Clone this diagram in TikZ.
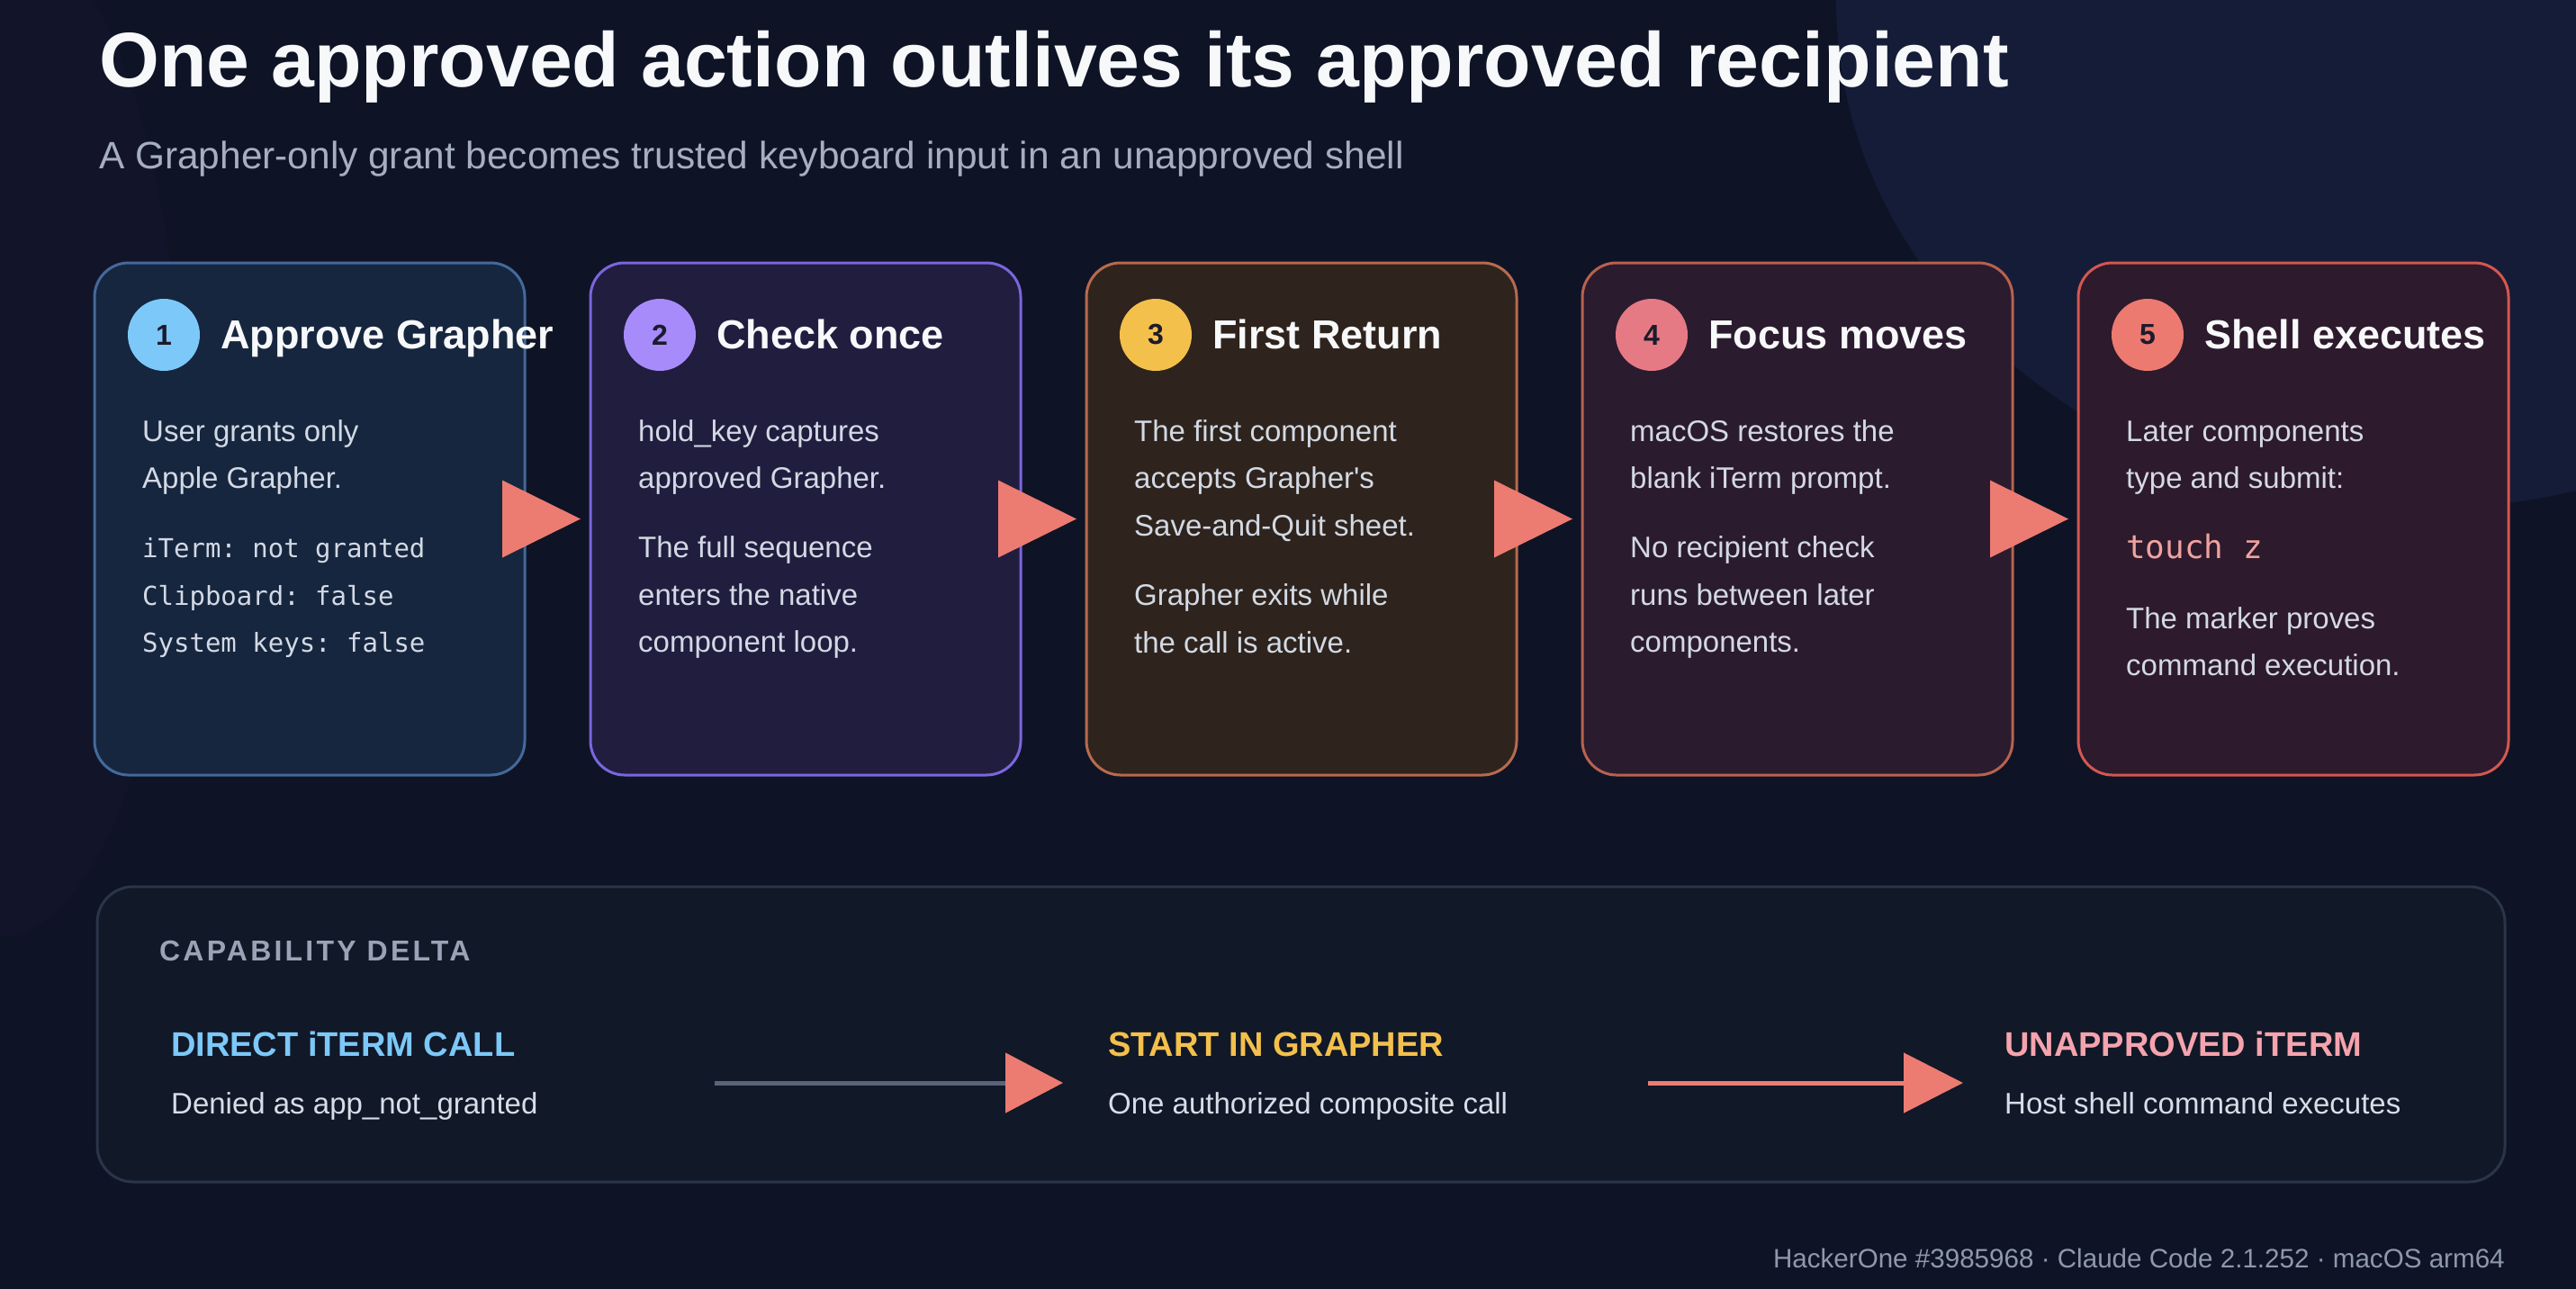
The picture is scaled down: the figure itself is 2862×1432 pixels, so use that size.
\documentclass[tikz,border=0pt]{standalone}
\usepackage{fontspec}
\setmainfont{Liberation Sans}
\setmonofont{DejaVu Sans Mono}
\usetikzlibrary{arrows.meta,positioning}

\definecolor{bgnavy}{HTML}{0E1426}
\definecolor{glownavy}{HTML}{151C38}
\definecolor{hazeplum}{HTML}{17172F}
\definecolor{titlewhite}{HTML}{F7F8FA}
\definecolor{subgray}{HTML}{A6AEBF}
\definecolor{bodygray}{HTML}{D3D9E4}
\definecolor{salmon}{HTML}{EC7B72}
\definecolor{cardA}{HTML}{16263F}\definecolor{edgeA}{HTML}{44699A}\definecolor{dotA}{HTML}{7CC8F8}
\definecolor{cardB}{HTML}{211D3F}\definecolor{edgeB}{HTML}{7A66DD}\definecolor{dotB}{HTML}{A78BFA}
\definecolor{cardC}{HTML}{2E241D}\definecolor{edgeC}{HTML}{B86A4C}\definecolor{dotC}{HTML}{F4C04C}
\definecolor{cardD}{HTML}{2B1B2E}\definecolor{edgeD}{HTML}{B8614E}\definecolor{dotD}{HTML}{E57A85}
\definecolor{cardE}{HTML}{2D1A2C}\definecolor{edgeE}{HTML}{D4574F}\definecolor{dotE}{HTML}{EC7A70}
\definecolor{panelbg}{HTML}{111827}
\definecolor{paneledge}{HTML}{2A3548}
\definecolor{capgray}{HTML}{9AA3B5}
\definecolor{wiregray}{HTML}{596379}
\definecolor{pinktext}{HTML}{F5A3AE}
\definecolor{cmdpink}{HTML}{F0A2A0}
\definecolor{notewhite}{HTML}{D8DDE8}
\definecolor{footgray}{HTML}{8F98AB}
\definecolor{numink}{HTML}{1C1B2B}

\begin{document}
\begin{tikzpicture}[x=1pt, y=-1pt, line join=round,
	card/.style={rectangle, rounded corners=38pt, minimum width=478pt, minimum height=569pt, line width=3pt, inner sep=0pt, outer sep=0pt},
	badge/.style={circle, minimum size=80pt, inner sep=0pt, text=numink, font=\fontsize{32}{38}\selectfont\bfseries},
	head/.style={anchor=base west, inner sep=0pt, text=titlewhite, font=\fontsize{45}{54}\selectfont\bfseries},
	body/.style={anchor=base west, inner sep=0pt, text=bodygray, font=\fontsize{33}{40}\selectfont},
	mono/.style={anchor=base west, inner sep=0pt, text=bodygray, font=\fontsize{29}{35}\selectfont\ttfamily},
	flowtri/.style={fill=salmon},
	colhead/.style={anchor=base west, inner sep=0pt, font=\fontsize{38}{44}\selectfont\bfseries},
	colnote/.style={anchor=base west, inner sep=0pt, text=notewhite, font=\fontsize{33}{40}\selectfont},
	wire/.style={line width=5pt}]
	
	% Background
	\useasboundingbox (0,0) rectangle (2862,1432);
	\fill[bgnavy] (0,0) rectangle (2862,1432);
	\begin{scope}
		\clip (0,0) rectangle (2862,1432);
		\fill[glownavy] (2690,0) ellipse [x radius=650pt, y radius=565pt];
		\fill[hazeplum, opacity=0.45] (0,480) ellipse [x radius=200pt, y radius=560pt];
	\end{scope}
	
	% Title
	\node[anchor=base west, inner sep=0pt, text=titlewhite, font=\fontsize{86}{100}\selectfont\bfseries] (title) at (110,96) {One approved action outlives its approved recipient};
	\node[anchor=base west, inner sep=0pt, text=subgray, font=\fontsize{42.4}{50}\selectfont] (subtitle) at (110,187) {A Grapher-only grant becomes trusted keyboard input in an unapproved shell};
	
	% Cards
	\node[card, fill=cardA, draw=edgeA] (c1) at (344,576.5) {};
	\node[card, fill=cardB, draw=edgeB] (c2) at (895,576.5) {};
	\node[card, fill=cardC, draw=edgeC] (c3) at (1446,576.5) {};
	\node[card, fill=cardD, draw=edgeD] (c4) at (1997,576.5) {};
	\node[card, fill=cardE, draw=edgeE] (c5) at (2548,576.5) {};
	
	% Step arrows
	\fill[flowtri] ([xshift=-25pt,yshift=43pt]c1.east) -- ([xshift=62pt]c1.east) -- ([xshift=-25pt,yshift=-43pt]c1.east) -- cycle;
	\fill[flowtri] ([xshift=-25pt,yshift=43pt]c2.east) -- ([xshift=62pt]c2.east) -- ([xshift=-25pt,yshift=-43pt]c2.east) -- cycle;
	\fill[flowtri] ([xshift=-25pt,yshift=43pt]c3.east) -- ([xshift=62pt]c3.east) -- ([xshift=-25pt,yshift=-43pt]c3.east) -- cycle;
	\fill[flowtri] ([xshift=-25pt,yshift=43pt]c4.east) -- ([xshift=62pt]c4.east) -- ([xshift=-25pt,yshift=-43pt]c4.east) -- cycle;
	
	% Card 1
	\node[badge, fill=dotA] (n1) at ([shift={(77,80)}]c1.north west) {1};
	\node[head] (h1) at ([shift={(140,95)}]c1.north west) {Approve Grapher};
	\node[body] (t1a) at ([shift={(53,198)}]c1.north west) {User grants only};
	\node[body] (t1b) at ([yshift=-52.5pt]t1a.base west) {Apple Grapher.};
	\node[mono] (t1c) at ([yshift=-77pt]t1b.base west) {iTerm: not granted};
	\node[mono] (t1d) at ([yshift=-52.5pt]t1c.base west) {Clipboard: false};
	\node[mono] (t1e) at ([yshift=-52.5pt]t1d.base west) {System keys: false};
	
	% Card 2
	\node[badge, fill=dotB] (n2) at ([shift={(77,80)}]c2.north west) {2};
	\node[head] (h2) at ([shift={(140,95)}]c2.north west) {Check once};
	\node[body] (t2a) at ([shift={(53,198)}]c2.north west) {hold\_key captures};
	\node[body] (t2b) at ([yshift=-52.5pt]t2a.base west) {approved Grapher.};
	\node[body] (t2c) at ([yshift=-77pt]t2b.base west) {The full sequence};
	\node[body] (t2d) at ([yshift=-52.5pt]t2c.base west) {enters the native};
	\node[body] (t2e) at ([yshift=-52.5pt]t2d.base west) {component loop.};
	
	% Card 3
	\node[badge, fill=dotC] (n3) at ([shift={(77,80)}]c3.north west) {3};
	\node[head] (h3) at ([shift={(140,95)}]c3.north west) {First Return};
	\node[body] (t3a) at ([shift={(53,198)}]c3.north west) {The first component};
	\node[body] (t3b) at ([yshift=-52.5pt]t3a.base west) {accepts Grapher\textquotesingle s};
	\node[body] (t3c) at ([yshift=-52.5pt]t3b.base west) {Save-and-Quit sheet.};
	\node[body] (t3d) at ([yshift=-77.5pt]t3c.base west) {Grapher exits while};
	\node[body] (t3e) at ([yshift=-52.5pt]t3d.base west) {the call is active.};
	
	% Card 4
	\node[badge, fill=dotD] (n4) at ([shift={(77,80)}]c4.north west) {4};
	\node[head] (h4) at ([shift={(140,95)}]c4.north west) {Focus moves};
	\node[body] (t4a) at ([shift={(53,198)}]c4.north west) {macOS restores the};
	\node[body] (t4b) at ([yshift=-52.5pt]t4a.base west) {blank iTerm prompt.};
	\node[body] (t4c) at ([yshift=-77pt]t4b.base west) {No recipient check};
	\node[body] (t4d) at ([yshift=-52.5pt]t4c.base west) {runs between later};
	\node[body] (t4e) at ([yshift=-52.5pt]t4d.base west) {components.};
	
	% Card 5
	\node[badge, fill=dotE] (n5) at ([shift={(77,80)}]c5.north west) {5};
	\node[head] (h5) at ([shift={(140,95)}]c5.north west) {Shell executes};
	\node[body] (t5a) at ([shift={(53,198)}]c5.north west) {Later components};
	\node[body] (t5b) at ([yshift=-52.5pt]t5a.base west) {type and submit:};
	\node[mono, text=cmdpink, font=\fontsize{36}{42}\selectfont\ttfamily] (t5c) at ([yshift=-77.5pt]t5b.base west) {touch z};
	\node[body] (t5d) at ([yshift=-78pt]t5c.base west) {The marker proves};
	\node[body] (t5e) at ([yshift=-52.5pt]t5d.base west) {command execution.};
	
	% Capability delta panel
	\node[rectangle, rounded corners=40pt, minimum width=2675pt, minimum height=328pt, fill=panelbg, draw=paneledge, line width=3pt, inner sep=0pt, outer sep=0pt] (delta) at (1445.5,1149) {};
	\node[anchor=base west, inner sep=0pt, text=capgray, font=\fontsize{32}{38}\selectfont\bfseries\addfontfeatures{LetterSpace=10}] (cap) at ([shift={(69,82)}]delta.north west) {CAPABILITY DELTA};
	
	\node[colhead, text=dotA] (k1) at ([shift={(82,188)}]delta.north west) {DIRECT iTERM CALL};
	\node[colnote] (m1) at ([yshift=-64pt]k1.base west) {Denied as app\_not\_granted};
	\node[colhead, text=dotC] (k2) at ([xshift=1041pt]k1.base west) {START IN GRAPHER};
	\node[colnote] (m2) at ([yshift=-64pt]k2.base west) {One authorized composite call};
	\node[colhead, text=pinktext] (k3) at ([xshift=996pt]k2.base west) {UNAPPROVED iTERM};
	\node[colnote] (m3) at ([yshift=-64pt]k3.base west) {Host shell command executes};
	
	% Delta arrows
	\coordinate (w1) at (794,1203);
	\coordinate (w2) at (1181,1203);
	\coordinate (w3) at (1831,1203);
	\coordinate (w4) at (2181,1203);
	\draw[wire, wiregray, -{Triangle[length=64pt, width=66pt, color=salmon]}] (w1) -- (w2);
	\draw[wire, salmon, -{Triangle[length=66pt, width=66pt]}] (w3) -- (w4);
	
	% Footer
	\node[anchor=base east, inner sep=0pt, text=footgray, font=\fontsize{29.6}{36}\selectfont] (foot) at (2783,1408) {HackerOne \#3985968 · Claude Code 2.1.252 · macOS arm64};
\end{tikzpicture}
\end{document}
